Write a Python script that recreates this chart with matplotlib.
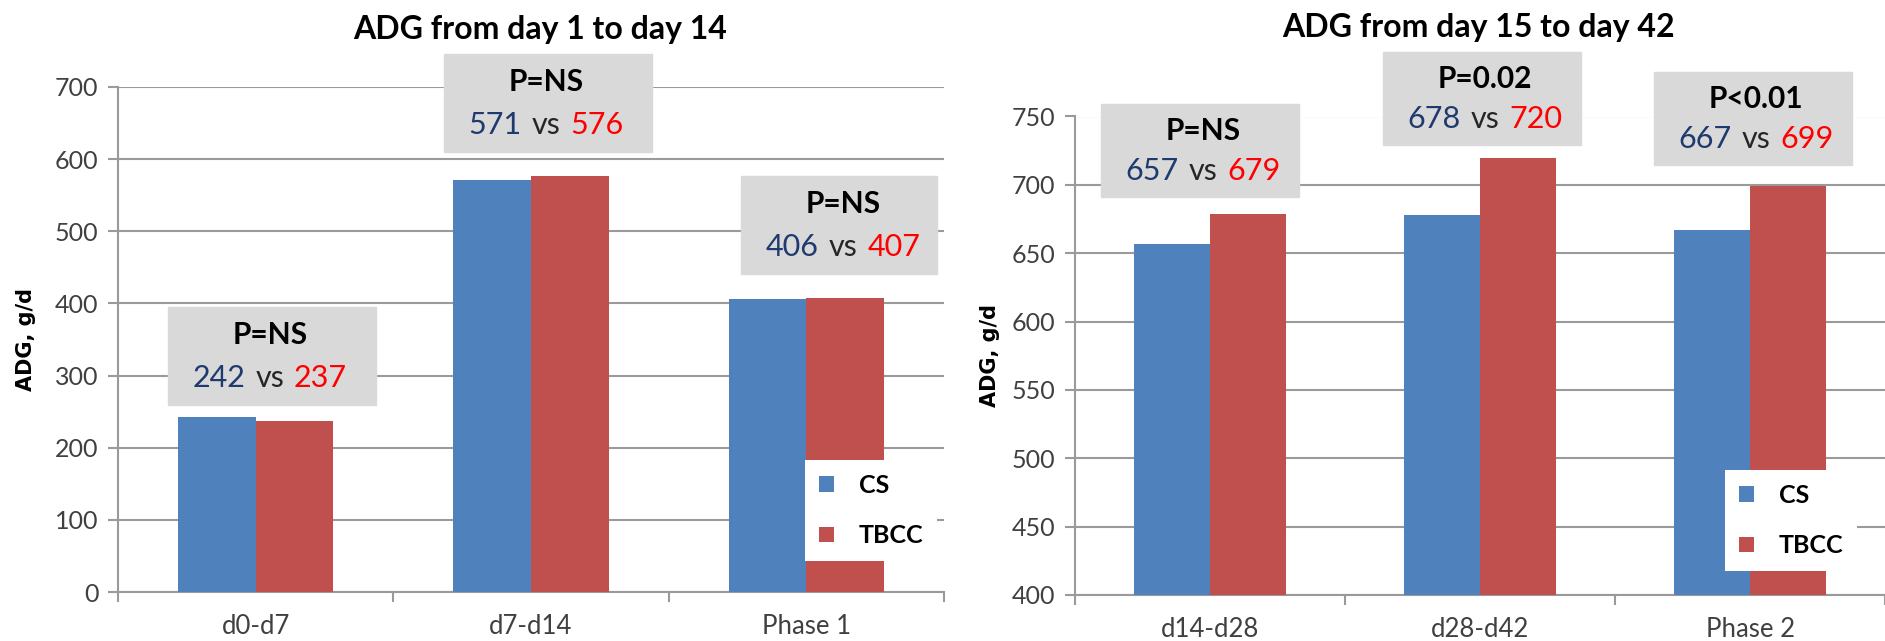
"""
ADG (average daily gain) comparison CS vs TBCC, two periods
"""
import numpy as np
import matplotlib.pyplot as plt
from matplotlib.patches import Rectangle
from matplotlib.offsetbox import TextArea, HPacker, AnnotationBbox


### data
cats_1 = ['d0-d7', 'd7-d14', 'Phase 1']
cs_1 = [242, 571, 406]
tbcc_1 = [237, 576, 407]
pval_1 = ['P=NS', 'P=NS', 'P=NS']

cats_2 = ['d14-d28', 'd28-d42', 'Phase 2']
cs_2 = [657, 678, 667]
tbcc_2 = [679, 720, 699]
pval_2 = ['P=NS', 'P=0.02', 'P<0.01']

title_1 = 'ADG from day 1 to day 14'
title_2 = 'ADG from day 15 to day 42'
ylab = 'ADG, g/d'


### style
W, H = 1885, 641
c_cs = '#4f81bd'
c_tb = '#c0504d'
c_grid = '#9a9a9a'
c_tick = '#404040'
c_box = '#d9d9d9'
c_navy = '#1f3a6e'
c_red = '#ff0000'
fnt = 'Lato'

plt.rcParams['font.family'] = [fnt, 'DejaVu Sans']

fig = plt.figure(figsize=(W/100, H/100), dpi=100)


def px(x0, y_top, x1, y_bot):
	# figure-fraction rect from pixel box (top origin)
	return [x0/W, 1 - y_bot/H, (x1 - x0)/W, (y_bot - y_top)/H]


def panel(rect, cats, cs, tb, ylim, yticks, xmax, pvals, boxes, box_w, box_h,
		  title, title_xy, leg_xy, ylab_x):
	ax = fig.add_axes(rect)
	x = np.arange(len(cats))
	bw = 0.282
	b1 = ax.bar(x - bw/2, cs, bw, color=c_cs, label='CS', zorder=3)
	b2 = ax.bar(x + bw/2, tb, bw, color=c_tb, label='TBCC', zorder=3)
	ax.set_xlim(-0.5, xmax)
	ax.set_ylim(*ylim)
	ax.set_yticks(yticks)
	ax.set_xticks(x)
	ax.set_xticklabels(cats)
	ax.set_xticks(np.arange(len(cats) + 1) - 0.5, minor=True)
	ax.grid(axis='y', color=c_grid, lw=1.5, zorder=0)
	for s in ['top', 'right']:
		ax.spines[s].set_visible(False)
	for s in ['left', 'bottom']:
		ax.spines[s].set_color(c_grid)
		ax.spines[s].set_linewidth(1.5)
	ax.tick_params(axis='y', length=7, width=1.5, color=c_grid, labelsize=18,
				   labelcolor=c_tick, pad=7)
	ax.tick_params(axis='x', which='major', length=0, labelsize=18.5,
				   labelcolor=c_tick, pad=16)
	ax.tick_params(axis='x', which='minor', length=7, width=1.5, color=c_grid)
	fig.text(ylab_x/W, (rect[1] + rect[3]/2), ylab, rotation=90, ha='center',
			 va='center', fontsize=15, fontweight='bold', family='DejaVu Sans')

	fig.text(title_xy[0]/W, 1 - title_xy[1]/H, title, ha='center', va='center',
			 fontsize=23, fontweight='bold')

	# grey p-value boxes
	for i, (bx, by) in enumerate(boxes):
		fig.add_artist(Rectangle((bx/W, 1 - (by + box_h)/H), box_w[i]/W, box_h/H,
								 transform=fig.transFigure, color=c_box, zorder=5))
		cx = bx + 102
		fig.text(cx/W, 1 - (by + 0.29*box_h)/H, pvals[i], ha='center', va='center',
				 fontsize=21.5, fontweight='bold', color='black', zorder=6)
		parts = [TextArea(str(cs[i]), textprops=dict(color=c_navy, fontsize=22)),
				 TextArea('vs', textprops=dict(color='#262626', fontsize=22)),
				 TextArea(str(tb[i]), textprops=dict(color=c_red, fontsize=22))]
		pack = HPacker(children=parts, sep=7, pad=0, align='baseline')
		ab = AnnotationBbox(pack, (cx, H - (by + 0.72*box_h)), xycoords='figure pixels',
							frameon=False, box_alignment=(0.5, 0.5), pad=0, zorder=6)
		fig.add_artist(ab)

	leg = ax.legend(handles=[b1, b2], loc='upper left',
					bbox_to_anchor=(leg_xy[0]/W, 1 - leg_xy[1]/H),
					bbox_transform=fig.transFigure, borderaxespad=0,
					frameon=True, fancybox=False, facecolor='white', edgecolor='none',
					framealpha=1, handlelength=0.6, handleheight=0.6,
					handletextpad=1.0, labelspacing=1.1, borderpad=0.55,
					prop=dict(family=fnt, weight='bold', size=18))
	leg.set_zorder(10)
	return ax


panel(px(118, 87, 944, 592), cats_1, cs_1, tbcc_1, (0, 700), range(0, 701, 100),
	  2.378, pval_1, [(168, 307), (444, 54), (741, 176)], [208, 208, 196], 98,
	  title_1, (540, 29), (805, 460), 26)

panel(px(1075, 116.5, 1885, 595), cats_2, cs_2, tbcc_2, (400, 750), range(400, 751, 50),
	  2.478, pval_2, [(1101, 104), (1383, 52), (1654, 72)], [198, 198, 198], 93,
	  title_2, (1478, 27), (1725, 470), 990)

fig.savefig('out.png', dpi=100)
